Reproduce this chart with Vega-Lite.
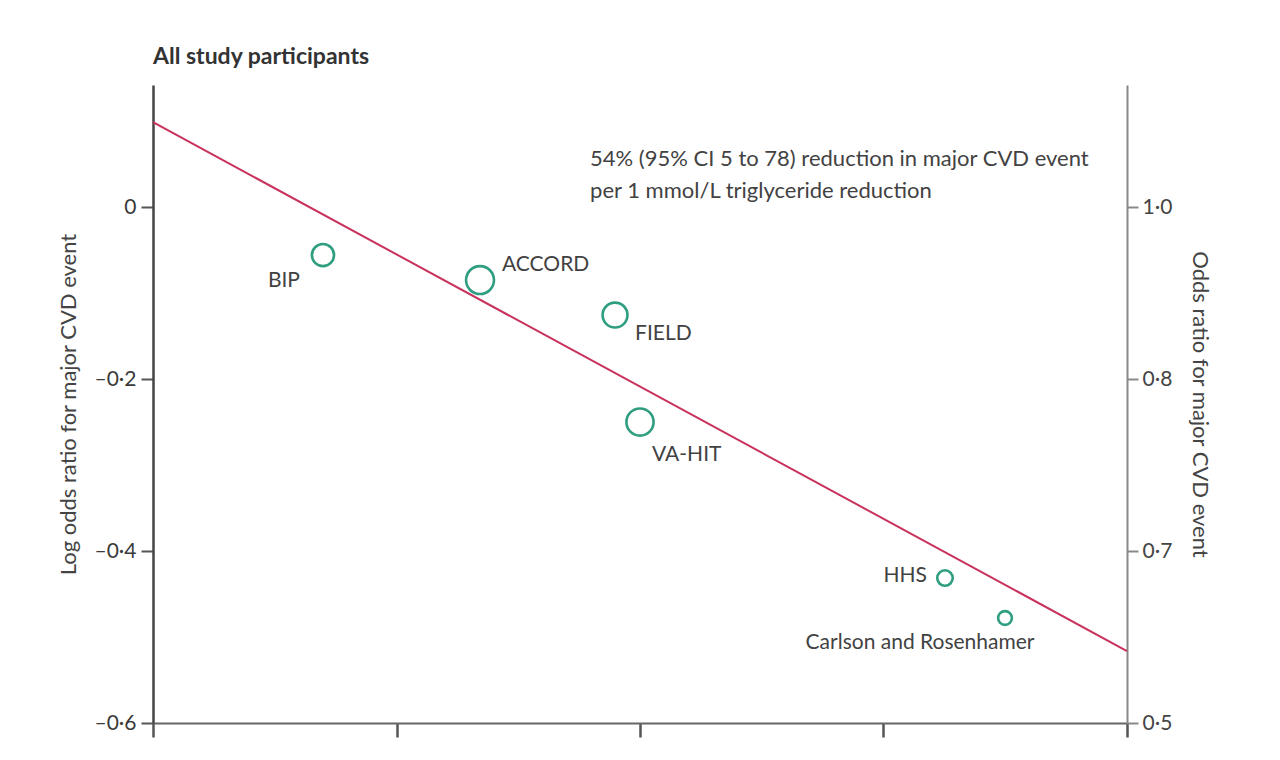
{
  "$schema": "https://vega.github.io/schema/vega-lite/v6.json",
  "width": 974,
  "height": 638,
  "autosize": "none",
  "padding": {"left": 153, "top": 85, "right": 153, "bottom": 37},
  "background": "#ffffff",
  "title": {
    "text": "All study participants",
    "anchor": "start",
    "frame": "group",
    "font": "Lato",
    "fontSize": 23,
    "fontWeight": "bold",
    "color": "#333333",
    "baseline": "alphabetic",
    "offset": -2
  },
  "config": {
    "view": {"stroke": null},
    "font": "Lato",
    "text": {"font": "Lato", "fontSize": 21, "color": "#424242"}
  },
  "datasets": {
    "studies": [
      {"study": "BIP", "tg_reduction": 0.1396, "log_or": -0.0558, "weight": 490},
      {"study": "ACCORD", "tg_reduction": 0.2686, "log_or": -0.0849, "weight": 780},
      {"study": "FIELD", "tg_reduction": 0.3795, "log_or": -0.1256, "weight": 620},
      {"study": "VA-HIT", "tg_reduction": 0.40, "log_or": -0.25, "weight": 740},
      {"study": "HHS", "tg_reduction": 0.6505, "log_or": -0.4314, "weight": 240},
      {"study": "Carlson and Rosenhamer", "tg_reduction": 0.6998, "log_or": -0.4779, "weight": 190}
    ],
    "fit": [
      {"tg_reduction": 0, "log_or": 0.0988},
      {"tg_reduction": 0.8, "log_or": -0.5163}
    ]
  },
  "resolve": {"scale": {"y": "independent"}},
  "layer": [
    {
      "data": {"name": "fit"},
      "mark": {"type": "line", "color": "#c8325c", "strokeWidth": 2},
      "encoding": {
        "x": {
          "field": "tg_reduction", "type": "quantitative",
          "scale": {"domain": [0, 0.8], "nice": false, "zero": false},
          "axis": {
            "values": [0, 0.2, 0.4, 0.6, 0.8],
            "labels": false, "title": null, "grid": false,
            "domainColor": "#666666", "domainWidth": 2,
            "tickColor": "#555555", "tickWidth": 2.5, "tickSize": 14
          }
        },
        "y": {
          "field": "log_or", "type": "quantitative",
          "scale": {"domain": [-0.6, 0.142], "nice": false, "zero": false},
          "axis": {
            "orient": "left",
            "values": [0, -0.2, -0.4, -0.6],
            "labelExpr": "datum.value == 0 ? '0' : '–0·' + format(abs(datum.value) * 10, '.0f')",
            "labelFont": "Lato", "labelFontSize": 21, "labelColor": "#3a3a3a",
            "labelPadding": 5,
            "title": "Log odds ratio for major CVD event",
            "titleFont": "Lato", "titleFontSize": 22, "titleFontWeight": "normal",
            "titleColor": "#444444", "titlePadding": 14,
            "grid": false,
            "domainColor": "#444444", "domainWidth": 2.5,
            "tickColor": "#555555", "tickWidth": 2, "tickSize": 12
          }
        }
      }
    },
    {
      "data": {"name": "fit"},
      "mark": {"type": "line", "opacity": 0},
      "encoding": {
        "x": {"field": "tg_reduction", "type": "quantitative", "scale": {"domain": [0, 0.8], "nice": false, "zero": false}},
        "y": {
          "field": "log_or", "type": "quantitative",
          "scale": {"domain": [-0.6, 0.142], "nice": false, "zero": false},
          "axis": {
            "orient": "right",
            "values": [0, -0.2, -0.4, -0.6],
            "labelExpr": "datum.value == 0 ? '1·0' : datum.value > -0.3 ? '0·8' : datum.value > -0.5 ? '0·7' : '0·5'",
            "labelFont": "Lato", "labelFontSize": 21, "labelColor": "#444444",
            "labelPadding": 4,
            "title": "Odds ratio for major CVD event",
            "titleFont": "Lato", "titleFontSize": 22, "titleFontWeight": "normal",
            "titleColor": "#444444", "titlePadding": 16,
            "grid": false,
            "domainColor": "#888888", "domainWidth": 2,
            "tickColor": "#888888", "tickWidth": 2, "tickSize": 11
          }
        }
      }
    },
    {
      "data": {"name": "studies"},
      "mark": {"type": "point", "shape": "circle", "filled": false, "stroke": "#2f9e80", "strokeWidth": 2.6, "opacity": 1},
      "encoding": {
        "x": {"field": "tg_reduction", "type": "quantitative", "scale": {"domain": [0, 0.8], "nice": false, "zero": false}},
        "y": {"field": "log_or", "type": "quantitative", "scale": {"domain": [-0.6, 0.142], "nice": false, "zero": false}, "axis": null},
        "size": {"field": "weight", "type": "quantitative", "scale": {"domain": [0, 1000], "range": [0, 1000]}, "legend": null}
      }
    },
    {
      "data": {"name": "studies"},
      "transform": [{"filter": "datum.study == 'BIP'"}],
      "mark": {"type": "text", "align": "right", "baseline": "middle", "dx": -23, "dy": 26},
      "encoding": {
        "x": {"field": "tg_reduction", "type": "quantitative", "scale": {"domain": [0, 0.8], "nice": false, "zero": false}},
        "y": {"field": "log_or", "type": "quantitative", "scale": {"domain": [-0.6, 0.142], "nice": false, "zero": false}, "axis": null},
        "text": {"field": "study"}
      }
    },
    {
      "data": {"name": "studies"},
      "transform": [{"filter": "datum.study == 'ACCORD'"}],
      "mark": {"type": "text", "align": "left", "baseline": "middle", "dx": 22, "dy": -15},
      "encoding": {
        "x": {"field": "tg_reduction", "type": "quantitative", "scale": {"domain": [0, 0.8], "nice": false, "zero": false}},
        "y": {"field": "log_or", "type": "quantitative", "scale": {"domain": [-0.6, 0.142], "nice": false, "zero": false}, "axis": null},
        "text": {"field": "study"}
      }
    },
    {
      "data": {"name": "studies"},
      "transform": [{"filter": "datum.study == 'FIELD'"}],
      "mark": {"type": "text", "align": "left", "baseline": "middle", "dx": 20, "dy": 19},
      "encoding": {
        "x": {"field": "tg_reduction", "type": "quantitative", "scale": {"domain": [0, 0.8], "nice": false, "zero": false}},
        "y": {"field": "log_or", "type": "quantitative", "scale": {"domain": [-0.6, 0.142], "nice": false, "zero": false}, "axis": null},
        "text": {"field": "study"}
      }
    },
    {
      "data": {"name": "studies"},
      "transform": [{"filter": "datum.study == 'VA-HIT'"}],
      "mark": {"type": "text", "align": "left", "baseline": "middle", "dx": 12, "dy": 33},
      "encoding": {
        "x": {"field": "tg_reduction", "type": "quantitative", "scale": {"domain": [0, 0.8], "nice": false, "zero": false}},
        "y": {"field": "log_or", "type": "quantitative", "scale": {"domain": [-0.6, 0.142], "nice": false, "zero": false}, "axis": null},
        "text": {"field": "study"}
      }
    },
    {
      "data": {"name": "studies"},
      "transform": [{"filter": "datum.study == 'HHS'"}],
      "mark": {"type": "text", "align": "right", "baseline": "middle", "dx": -18, "dy": -2},
      "encoding": {
        "x": {"field": "tg_reduction", "type": "quantitative", "scale": {"domain": [0, 0.8], "nice": false, "zero": false}},
        "y": {"field": "log_or", "type": "quantitative", "scale": {"domain": [-0.6, 0.142], "nice": false, "zero": false}, "axis": null},
        "text": {"field": "study"}
      }
    },
    {
      "data": {"name": "studies"},
      "transform": [{"filter": "datum.study == 'Carlson and Rosenhamer'"}],
      "mark": {"type": "text", "align": "center", "baseline": "middle", "dx": -85, "dy": 25},
      "encoding": {
        "x": {"field": "tg_reduction", "type": "quantitative", "scale": {"domain": [0, 0.8], "nice": false, "zero": false}},
        "y": {"field": "log_or", "type": "quantitative", "scale": {"domain": [-0.6, 0.142], "nice": false, "zero": false}, "axis": null},
        "text": {"field": "study"}
      }
    },
    {
      "data": {"values": [{"note": "54% (95% CI 5 to 78) reduction in major CVD event\nper 1 mmol/L triglyceride reduction"}]},
      "mark": {"type": "text", "align": "left", "baseline": "alphabetic", "lineBreak": "\n", "lineHeight": 32, "fontSize": 22},
      "encoding": {
        "x": {"datum": 0.359, "type": "quantitative", "scale": {"domain": [0, 0.8], "nice": false, "zero": false}},
        "y": {"datum": 0.0477, "type": "quantitative", "scale": {"domain": [-0.6, 0.142], "nice": false, "zero": false}, "axis": null},
        "text": {"field": "note"}
      }
    }
  ]
}
